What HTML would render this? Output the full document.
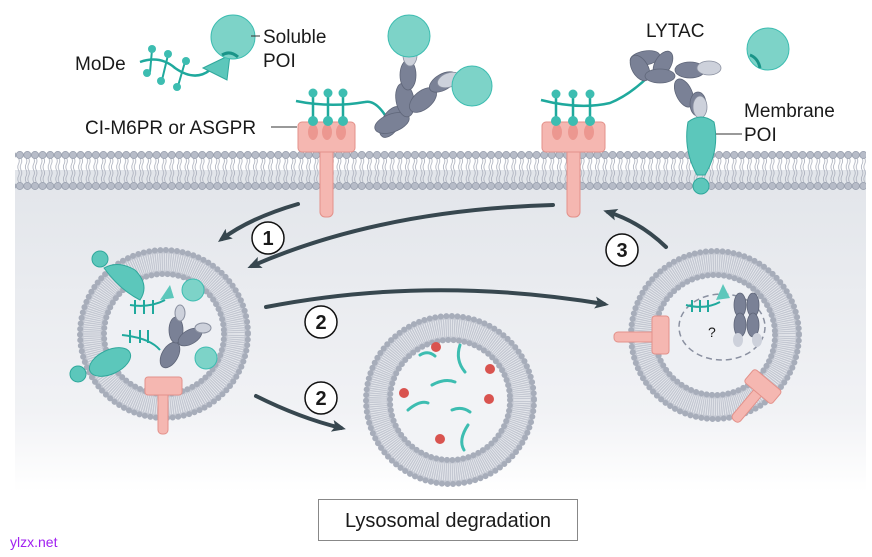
<!DOCTYPE html>
<html><head><meta charset="utf-8"><style>
html,body{margin:0;padding:0;background:#fff}
svg{display:block}
text{font-family:"Liberation Sans",sans-serif;fill:#1a1a1a}
</style></head><body>
<svg width="872" height="557" viewBox="0 0 872 557" xmlns="http://www.w3.org/2000/svg">
<defs>
<linearGradient id="bg" x1="0" y1="0" x2="0" y2="1">
<stop offset="0" stop-color="#e2e5ea"/><stop offset="0.75" stop-color="#f1f2f5"/><stop offset="1" stop-color="#ffffff"/>
</linearGradient>
<pattern id="lip" x="16" y="0" width="7.6" height="200" patternUnits="userSpaceOnUse">
<path d="M2.5 158 q1.5 3 0 6 q-1.5 3 0 6 M5 158 q1.5 3 0 6 q-1.5 3 0 6 M2.5 170 q1.5 3 0 6 q-1.5 3 0 6 M5 170 q1.5 3 0 6 q-1.5 3 0 6" stroke="#a9aebb" stroke-width="0.8" fill="none"/>
<circle cx="3.8" cy="155" r="3.6" fill="#b7bcc8" stroke="#959cab" stroke-width="0.7"/>
<circle cx="3.8" cy="186" r="3.6" fill="#b7bcc8" stroke="#959cab" stroke-width="0.7"/>
</pattern>
<marker id="ah" markerWidth="14" markerHeight="12" refX="9" refY="6" orient="auto" markerUnits="userSpaceOnUse" viewBox="0 0 14 12">
<path d="M0 0 L14 6 L0 12 L3 6Z" fill="#37474f"/>
</marker>
<g id="ves">
<circle r="72" fill="none" stroke="#c4c8d2" stroke-width="22"/>
<circle r="72" fill="none" stroke="#eceef2" stroke-width="17" stroke-dasharray="0.7 1.4"/>
<circle r="84" fill="none" stroke="#a7adba" stroke-width="6" stroke-dasharray="0 5.6" stroke-linecap="round"/>
<circle r="60" fill="none" stroke="#a7adba" stroke-width="6" stroke-dasharray="0 5.4" stroke-linecap="round"/>
</g>
</defs>

<rect x="15" y="170" width="851" height="322" fill="url(#bg)"/>
<rect x="15" y="148" width="851" height="44" fill="url(#lip)"/>

<g transform="translate(164,334)"><circle r="66" fill="#eef0f4"/><use href="#ves"/></g>
<g transform="translate(450,400)"><circle r="66" fill="#f2f3f6"/><use href="#ves"/></g>
<g transform="translate(715,335)"><circle r="66" fill="#eef0f4"/><use href="#ves"/></g>

<g stroke="#37474f" stroke-width="4" fill="none" stroke-linecap="round">
<path d="M298 204 Q250 218 222 239" marker-end="url(#ah)"/>
<path d="M553 205 Q380 210 252 266" marker-end="url(#ah)"/>
<path d="M266 307 Q430 275 604 304" marker-end="url(#ah)"/>
<path d="M256 396 Q300 418 341 428" marker-end="url(#ah)"/>
<path d="M666 247 Q640 222 608 212" marker-end="url(#ah)"/>
</g>
<g stroke="#111" stroke-width="1.5" fill="#fff">
<circle cx="268" cy="238" r="16"/><circle cx="321" cy="322" r="16"/><circle cx="321" cy="398" r="16"/><circle cx="622" cy="250" r="16"/>
</g>
<g font-size="20" font-weight="bold" text-anchor="middle">
<text x="268" y="245">1</text><text x="321" y="329">2</text><text x="321" y="405">2</text><text x="622" y="257">3</text>
</g>

<g fill="#f5b7b1" stroke="#e3918a" stroke-width="1">
<rect x="320" y="145" width="13" height="72" rx="5"/>
<rect x="298" y="122" width="57" height="30" rx="4"/>
<rect x="567" y="145" width="13" height="72" rx="5"/>
<rect x="542" y="122" width="63" height="30" rx="4"/>
</g>
<g fill="#ec9790">
<ellipse cx="313" cy="132" rx="5" ry="8"/><ellipse cx="327" cy="132" rx="5" ry="8"/><ellipse cx="341" cy="132" rx="5" ry="8"/>
<ellipse cx="557" cy="132" rx="5" ry="8"/><ellipse cx="573" cy="132" rx="5" ry="8"/><ellipse cx="589" cy="132" rx="5" ry="8"/>
</g>
<g stroke="#1fa99d" stroke-width="2.5" fill="none">
<path d="M296 101 Q330 108 365 102 Q375 100 385 115"/>
<path d="M313 94 V124 M328 94 V124 M343 94 V124"/>
<path d="M541 100 Q580 110 610 103 Q630 95 650 75"/>
<path d="M556 95 V124 M573 95 V124 M590 95 V124"/>
</g>
<g fill="#3dbdb1">
<circle cx="313" cy="93" r="4.5"/><circle cx="328" cy="93" r="4.5"/><circle cx="343" cy="93" r="4.5"/>
<circle cx="313" cy="121" r="5"/><circle cx="328" cy="121" r="5"/><circle cx="343" cy="121" r="5"/>
<circle cx="556" cy="94" r="4.5"/><circle cx="573" cy="94" r="4.5"/><circle cx="590" cy="94" r="4.5"/>
<circle cx="556" cy="121" r="5"/><circle cx="573" cy="121" r="5"/><circle cx="590" cy="121" r="5"/>
</g>

<path d="M140 62 Q160 55 175 68 Q195 82 210 70" stroke="#1fa99d" stroke-width="2.5" fill="none"/>
<g stroke="#1fa99d" stroke-width="2"><path d="M152 50 L150 72 M168 55 L162 80 M185 62 L178 86"/></g>
<g fill="#3dbdb1"><circle cx="152" cy="49" r="4"/><circle cx="147" cy="73" r="4"/><circle cx="168" cy="54" r="4"/><circle cx="161" cy="81" r="4"/><circle cx="186" cy="61" r="4"/><circle cx="177" cy="87" r="4"/></g>
<path d="M203 68 L230 55 L227 80 Z" fill="#5cc7bb" stroke="#2fa89c"/>
<circle cx="233" cy="37" r="22" fill="#7dd3c8" stroke="#3dbdb1"/>
<path d="M222 55 Q230 50 238 57" stroke="#1a9488" stroke-width="3" fill="none"/>
<line x1="251" y1="36" x2="260" y2="36" stroke="#333"/>

<g fill="#7a8196" stroke="#5f6679" stroke-width="0.8">
<ellipse cx="391" cy="122" rx="9" ry="17" transform="rotate(30 391 122)"/>
<ellipse cx="392" cy="123" rx="18" ry="9" transform="rotate(-20 392 123)"/>
<ellipse cx="405" cy="100" rx="9" ry="17" transform="rotate(-10 405 100)"/>
<ellipse cx="408" cy="75" rx="8" ry="15"/>
<ellipse cx="423" cy="100" rx="16" ry="9" transform="rotate(-40 423 100)"/>
<ellipse cx="443" cy="82" rx="15" ry="8" transform="rotate(-30 443 82)"/>
</g>
<g fill="#cdd1db" stroke="#8a90a0" stroke-width="0.8">
<ellipse cx="410" cy="55" rx="7" ry="11"/><ellipse cx="449" cy="80" rx="12" ry="7" transform="rotate(-20 449 80)"/>
</g>
<circle cx="409" cy="36" r="21" fill="#7dd3c8" stroke="#3dbdb1"/>
<circle cx="472" cy="86" r="20" fill="#7dd3c8" stroke="#3dbdb1"/>

<g fill="#7a8196" stroke="#5f6679" stroke-width="0.8">
<ellipse cx="645" cy="58" rx="15" ry="7" transform="rotate(-10 645 58)"/>
<ellipse cx="640" cy="68" rx="8" ry="14" transform="rotate(-30 640 68)"/>
<ellipse cx="663" cy="64" rx="8" ry="14" transform="rotate(30 663 64)"/>
<ellipse cx="660" cy="76" rx="15" ry="7"/>
<ellipse cx="690" cy="70" rx="15" ry="8"/>
<ellipse cx="684" cy="93" rx="8" ry="15" transform="rotate(-25 684 93)"/>
<ellipse cx="698" cy="104" rx="8" ry="12"/>
</g>
<g fill="#cdd1db" stroke="#8a90a0" stroke-width="0.8">
<ellipse cx="709" cy="68" rx="12" ry="7"/><ellipse cx="700" cy="107" rx="7" ry="11"/>
</g>
<path d="M688 122 Q683 150 697 175 L705 175 Q720 150 714 122 Q701 112 688 122Z" fill="#5cc7bb" stroke="#2fa89c"/>
<circle cx="701" cy="186" r="8" fill="#5cc7bb" stroke="#2fa89c"/>
<circle cx="768" cy="49" r="21" fill="#7dd3c8" stroke="#3dbdb1"/>
<path d="M750 55 Q758 58 760 68" stroke="#1a9488" stroke-width="3" fill="none"/>
<line x1="716" y1="134" x2="742" y2="134" stroke="#333"/>
<line x1="271" y1="127" x2="297" y2="127" stroke="#333"/>

<path d="M104 268 Q120 290 140 300 Q150 285 135 270 Q118 260 104 268Z" fill="#5cc7bb" stroke="#2fa89c"/>
<circle cx="100" cy="259" r="8" fill="#5cc7bb" stroke="#2fa89c"/>
<ellipse cx="110" cy="362" rx="22" ry="12" transform="rotate(-25 110 362)" fill="#5cc7bb" stroke="#2fa89c"/>
<circle cx="78" cy="374" r="8" fill="#5cc7bb" stroke="#2fa89c"/>
<g stroke="#1fa99d" stroke-width="2" fill="none">
<path d="M130 305 Q150 308 165 300 M135 300 V314 M144 300 V314 M153 300 V314"/>
<path d="M122 335 Q150 338 160 350 M130 330 V343 M140 330 V343 M148 330 V343"/>
</g>
<path d="M160 300 L170 285 L174 298Z" fill="#5cc7bb"/>
<circle cx="193" cy="290" r="11" fill="#7dd3c8" stroke="#3dbdb1"/>
<circle cx="206" cy="358" r="11" fill="#7dd3c8" stroke="#3dbdb1"/>
<g fill="#7a8196" stroke="#5f6679" stroke-width="0.8">
<ellipse cx="170" cy="355" rx="8" ry="14" transform="rotate(30 170 355)"/>
<ellipse cx="176" cy="330" rx="7" ry="13"/>
<ellipse cx="190" cy="337" rx="13" ry="7" transform="rotate(-30 190 337)"/>
</g>
<ellipse cx="180" cy="313" rx="5" ry="8" fill="#cdd1db" stroke="#8a90a0"/>
<ellipse cx="203" cy="328" rx="8" ry="5" fill="#cdd1db" stroke="#8a90a0"/>
<rect x="158" y="378" width="10" height="56" rx="4" fill="#f5b7b1" stroke="#e3918a"/>
<rect x="145" y="377" width="37" height="18" rx="3" fill="#f5b7b1" stroke="#e3918a"/>

<g stroke="#3dbdb1" stroke-width="3" fill="none" stroke-linecap="round">
<path d="M460 345 Q455 360 465 372"/><path d="M432 385 Q445 378 455 382"/><path d="M408 410 Q420 400 428 403"/>
<path d="M452 410 Q462 406 470 412"/><path d="M468 425 Q458 440 464 450"/><path d="M420 355 Q428 350 435 356"/>
</g>
<g fill="#d9534f">
<circle cx="436" cy="347" r="5"/><circle cx="490" cy="369" r="5"/><circle cx="404" cy="393" r="5"/><circle cx="489" cy="399" r="5"/><circle cx="440" cy="439" r="5"/>
</g>

<ellipse cx="722" cy="327" rx="43" ry="33" fill="none" stroke="#8a90a0" stroke-width="1.5" stroke-dasharray="6 4"/>
<g stroke="#1fa99d" stroke-width="2" fill="none"><path d="M686 305 Q705 310 720 302 M692 300 V312 M700 300 V312 M708 300 V312"/></g>
<path d="M716 300 L723 284 L730 298Z" fill="#5cc7bb"/>
<g fill="#7a8196" stroke="#5f6679" stroke-width="0.8">
<ellipse cx="740" cy="305" rx="6" ry="12"/><ellipse cx="753" cy="305" rx="6" ry="12"/>
<ellipse cx="740" cy="325" rx="6" ry="12"/><ellipse cx="753" cy="325" rx="6" ry="12"/>
</g>
<ellipse cx="738" cy="340" rx="5" ry="7" fill="#cdd1db"/><ellipse cx="757" cy="340" rx="5" ry="7" fill="#cdd1db"/>
<text x="708" y="337" font-size="14">?</text>
<rect x="614" y="332" width="45" height="10" rx="4" fill="#f5b7b1" stroke="#e3918a"/>
<rect x="652" y="316" width="17" height="38" rx="3" fill="#f5b7b1" stroke="#e3918a"/>
<g transform="rotate(40 760 390)">
<rect x="755" y="390" width="10" height="40" rx="4" fill="#f5b7b1" stroke="#e3918a"/>
<rect x="742" y="377" width="36" height="17" rx="3" fill="#f5b7b1" stroke="#e3918a"/>
</g>

<g font-size="19">
<text x="75" y="70">MoDe</text>
<text x="263" y="43">Soluble</text>
<text x="263" y="67">POI</text>
<text x="85" y="134">CI-M6PR or ASGPR</text>
<text x="646" y="37">LYTAC</text>
<text x="744" y="117">Membrane</text>
<text x="744" y="141">POI</text>
</g>
<rect x="318.5" y="499.5" width="259" height="41" fill="#fff" stroke="#888"/>
<text x="448" y="527" font-size="20" text-anchor="middle">Lysosomal degradation</text>
<text x="10" y="547" font-size="14" style="fill:#a020f0">ylzx.net</text>
</svg>
</body></html>
